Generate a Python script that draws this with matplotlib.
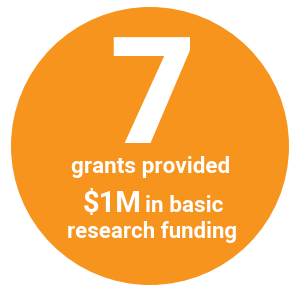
import matplotlib
matplotlib.use("Agg")
import matplotlib.pyplot as plt
from matplotlib.patches import Circle

# Data
big_number = "7"
line1 = "grants provided"
amount = "$1M"
line2_rest = "in basic"
line3 = "research funding"

ORANGE = "#F7941E"
W, H = 290, 286

fig = plt.figure(figsize=(W / 100, H / 100), dpi=100)
ax = fig.add_axes([0, 0, 1, 1])
ax.set_xlim(0, W)
ax.set_ylim(H, 0)
ax.set_aspect("equal")
ax.axis("off")

ax.add_patch(Circle((150, 146), 139, color=ORANGE, lw=0))

font = "Roboto"
ax.text(152, 143, big_number, fontsize=107, fontweight="black", family=font,
        color="white", ha="center", va="baseline")
ax.text(151, 173, line1, fontsize=16.2, fontweight="bold", family=font,
        color="white", ha="center", va="baseline")
ax.text(83, 212, amount, fontsize=21, fontweight="bold", family=font,
        color="white", ha="left", va="baseline")
ax.text(145, 212, line2_rest, fontsize=16.2, fontweight="bold", family=font,
        color="white", ha="left", va="baseline")
ax.text(152, 238, line3, fontsize=16.0, fontweight="bold", family=font,
        color="white", ha="center", va="baseline")

fig.savefig("out.png", dpi=100, facecolor="white")
